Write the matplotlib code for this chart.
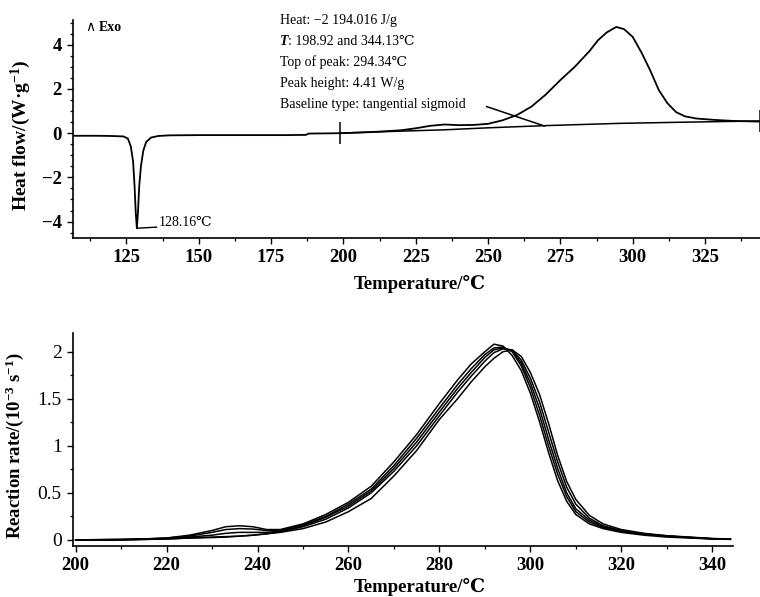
import matplotlib
matplotlib.use("Agg")
import matplotlib.pyplot as plt
from matplotlib.ticker import MultipleLocator, FixedLocator, FixedFormatter

plt.rcParams['font.family'] = ['Liberation Serif', 'DejaVu Serif', 'Noto Sans CJK SC']
plt.rcParams['mathtext.fontset'] = 'custom'
plt.rcParams['mathtext.rm'] = 'Liberation Serif'
plt.rcParams['mathtext.bf'] = 'Liberation Serif:bold'
plt.rcParams['mathtext.it'] = 'Liberation Serif:italic'
plt.rcParams['mathtext.default'] = 'bf'
plt.rcParams['axes.unicode_minus'] = True

# ---------------- DSC (top) data ----------------
dsc_T = [107, 115, 120, 124, 125.5, 126.5, 127.3, 127.8, 128.2, 128.6, 129.0, 129.4,
         130.0, 130.8, 131.8, 133.5, 136, 140, 150, 160, 170, 180, 187, 188, 195, 200,
         210, 220, 225, 230, 235, 240, 245, 250, 255, 260, 265, 270, 275, 280, 285,
         288, 291, 294.3, 297, 300, 303, 306, 309, 312, 315, 318, 322, 328, 335, 344]
dsc_V = [-0.12, -0.12, -0.13, -0.15, -0.25, -0.6, -1.3, -2.4, -3.6, -4.3, -3.5, -2.4,
         -1.5, -0.8, -0.4, -0.2, -0.13, -0.1, -0.09, -0.09, -0.09, -0.09, -0.08, -0.02,
         -0.01, 0.0, 0.05, 0.13, 0.22, 0.33, 0.39, 0.36, 0.37, 0.42, 0.58, 0.82, 1.2,
         1.75, 2.4, 3.0, 3.7, 4.2, 4.55, 4.8, 4.7, 4.35, 3.65, 2.85, 1.95, 1.35, 0.95,
         0.76, 0.66, 0.6, 0.55, 0.52]
base_T = [198.92, 220, 235, 250, 270, 295, 320, 344.13]
base_V = [0.0, 0.09, 0.15, 0.24, 0.34, 0.44, 0.50, 0.55]
tang_T = [249.5, 269.5]
tang_V = [1.2, 0.32]
limit_T = [198.92, 344.13]
limit_V = [0.0, 0.55]
dip_T = 128.6
dip_V = -4.3
dip_label = "128.16℃"
info_lines = ["Heat: \u22122 194.016 J/g",
              ": 198.92 and 344.13℃",
              "Top of peak: 294.34℃",
              "Peak height: 4.41 W/g",
              "Baseline type: tangential sigmoid"]
top_xticks = [125, 150, 175, 200, 225, 250, 275, 300, 325]
top_yticks = [-4, -2, 0, 2, 4]

# ---------------- Reaction rate (bottom) data ----------------
rr_T = [200, 210, 215, 220, 225, 230, 233, 236, 239, 242, 245, 250, 255, 260, 265,
        270, 275, 280, 284, 287, 290, 292, 294, 296, 298, 300, 302, 304, 306, 308,
        310, 313, 316, 320, 325, 330, 335, 340, 344]
rr_A = [0, 0.005, 0.01, 0.02, 0.05, 0.10, 0.14, 0.15, 0.14, 0.11, 0.11, 0.17, 0.27,
        0.40, 0.57, 0.83, 1.12, 1.45, 1.70, 1.87, 2.00, 2.08, 2.06, 1.96, 1.80, 1.56,
        1.26, 0.93, 0.63, 0.41, 0.27, 0.17, 0.12, 0.08, 0.05, 0.03, 0.02, 0.01, 0.005]
rr_B = [0, 0.005, 0.01, 0.02, 0.04, 0.08, 0.11, 0.12, 0.115, 0.10, 0.105, 0.16, 0.25,
        0.38, 0.54, 0.79, 1.08, 1.40, 1.65, 1.82, 1.97, 2.04, 2.05, 2.00, 1.85, 1.62,
        1.33, 1.00, 0.70, 0.46, 0.30, 0.19, 0.13, 0.09, 0.06, 0.04, 0.025, 0.012, 0.008]
rr_C = [0, 0.003, 0.008, 0.015, 0.03, 0.05, 0.07, 0.08, 0.08, 0.08, 0.095, 0.15, 0.24,
        0.36, 0.52, 0.76, 1.04, 1.36, 1.61, 1.78, 1.94, 2.02, 2.04, 2.01, 1.88, 1.67,
        1.40, 1.07, 0.76, 0.50, 0.33, 0.21, 0.14, 0.095, 0.06, 0.04, 0.025, 0.012, 0.008]
rr_D = [0, 0, 0.005, 0.01, 0.02, 0.025, 0.03, 0.04, 0.05, 0.065, 0.085, 0.14, 0.22,
        0.34, 0.50, 0.73, 1.00, 1.32, 1.57, 1.74, 1.90, 1.99, 2.03, 2.02, 1.91, 1.72,
        1.47, 1.15, 0.83, 0.56, 0.38, 0.23, 0.15, 0.10, 0.065, 0.042, 0.027, 0.013, 0.008]
rr_E = [0, 0, 0.005, 0.01, 0.02, 0.03, 0.035, 0.04, 0.05, 0.065, 0.08, 0.12, 0.19,
        0.30, 0.44, 0.68, 0.95, 1.28, 1.50, 1.68, 1.84, 1.93, 2.00, 2.02, 1.95, 1.78,
        1.55, 1.24, 0.90, 0.62, 0.43, 0.26, 0.17, 0.11, 0.07, 0.045, 0.03, 0.015, 0.01]
rr_curves = [rr_A, rr_B, rr_C, rr_D, rr_E]
bot_xticks = [200, 220, 240, 260, 280, 300, 320, 340]
bot_yticks = [0, 0.5, 1, 1.5, 2]
bot_yticklabels = ["0", "0.5", "1", "1.5", "2"]

# ---------------- Figure ----------------
fig = plt.figure(figsize=(7.6, 5.97), dpi=100)
ax1 = fig.add_axes([0.096, 0.601, 0.904, 0.365])
ax2 = fig.add_axes([0.096, 0.0854, 0.868, 0.357])

lw = 1.3
tick_fs = 13.5
label_fs = 14

for ax in (ax1, ax2):
    for s in ("top", "right"):
        ax.spines[s].set_visible(False)
    for s in ("left", "bottom"):
        ax.spines[s].set_linewidth(1.2)
    ax.tick_params(which="major", direction="out", length=4, width=1.0,
                   labelsize=tick_fs, pad=4)
    ax.tick_params(which="minor", direction="out", length=2.5, width=0.9)

# top panel
ax1.plot(dsc_T, dsc_V, color="black", lw=lw)
ax1.plot(base_T, base_V, color="black", lw=1.1)
ax1.plot(tang_T, tang_V, color="black", lw=1.1)
ax1.plot(limit_T, limit_V, ls="none", marker="|", markersize=16, mew=1.1,
         color="black", clip_on=False)
ax1.plot([dip_T, dip_T + 6.8], [dip_V, dip_V + 0.05], color="black", lw=1.0)
ax1.text(dip_T + 7.4, dip_V + 0.25, dip_label, fontsize=10, va="center", ha="left")
ax1.text(0.018, 0.968, "\u2227", transform=ax1.transAxes, fontsize=10,
         va="center", ha="left", family="DejaVu Sans")
ax1.text(0.038, 0.968, "Exo", transform=ax1.transAxes, fontsize=10,
         va="center", ha="left", fontweight="bold")
ys = [1.0, 0.904, 0.807, 0.711, 0.615]
info_fs = 10
for i, (yy, txt) in enumerate(zip(ys, info_lines)):
    if i == 1:
        tT = ax1.text(0.301, yy, "T", transform=ax1.transAxes, fontsize=info_fs,
                      va="center", ha="left", fontstyle="italic", fontweight="bold")
        ax1.annotate(txt, xy=(1, 0.5), xycoords=tT, fontsize=info_fs,
                     va="center", ha="left")
    else:
        ax1.text(0.301, yy, txt, transform=ax1.transAxes, fontsize=info_fs,
                 va="center", ha="left")

ax1.set_xlim(106.5, 344)
ax1.set_ylim(-4.75, 5.1)
ax1.xaxis.set_major_locator(FixedLocator(top_xticks))
ax1.xaxis.set_minor_locator(MultipleLocator(12.5))
ax1.yaxis.set_major_locator(FixedLocator(top_yticks))
ax1.yaxis.set_minor_locator(MultipleLocator(0.5))
for lab in ax1.get_xticklabels() + ax1.get_yticklabels():
    lab.set_fontweight("bold")
ax1.set_xlabel("Temperature/℃", fontsize=13.5, fontweight="bold")
ax1.xaxis.set_label_coords(0.505, -0.17)
ax1.set_ylabel("Heat flow/(W\u00b7g$^{-1}$)", fontsize=label_fs, fontweight="bold")
ax1.yaxis.set_label_coords(-0.058, 0.47)

# bottom panel
for c in rr_curves:
    ax2.plot(rr_T, c, color="black", lw=1.1)
ax2.set_xlim(199.4, 344.5)
ax2.set_ylim(-0.065, 2.2)
ax2.xaxis.set_major_locator(FixedLocator(bot_xticks))
ax2.xaxis.set_minor_locator(MultipleLocator(10))
ax2.yaxis.set_major_locator(FixedLocator(bot_yticks))
ax2.yaxis.set_major_formatter(FixedFormatter(bot_yticklabels))
ax2.yaxis.set_minor_locator(MultipleLocator(0.25))
for lab in ax2.get_xticklabels():
    lab.set_fontweight("bold")
for lab in ax2.get_yticklabels():
    lab.set_fontsize(14)
ax2.set_xlabel("Temperature/℃", fontsize=13.5, fontweight="bold")
ax2.xaxis.set_label_coords(0.525, -0.15)
ax2.set_ylabel("Reaction rate/(10$^{-3}$ s$^{-1}$)", fontsize=13.5,
               fontweight="bold")
ax2.yaxis.set_label_coords(-0.071, 0.47)

fig.savefig("out.png", dpi=100)
